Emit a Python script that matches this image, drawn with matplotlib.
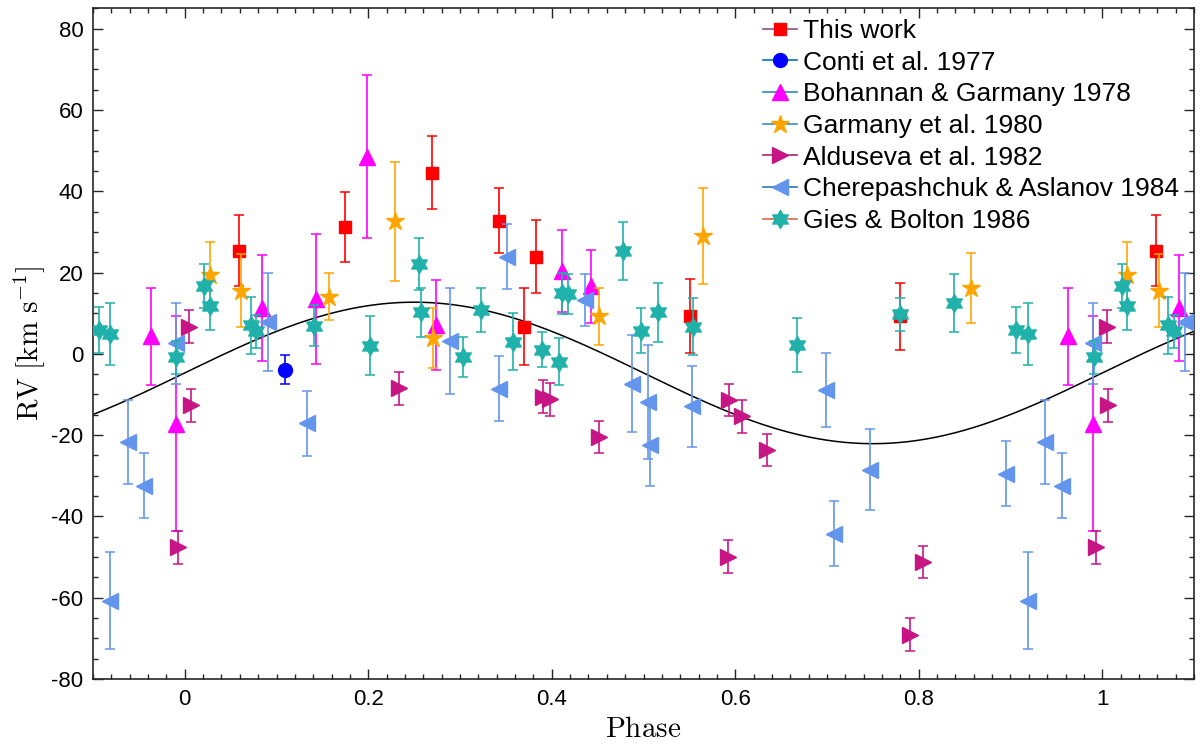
import numpy as np
import matplotlib
matplotlib.use("Agg")
import matplotlib.pyplot as plt
from matplotlib.lines import Line2D
from matplotlib.path import Path
from matplotlib.ticker import MultipleLocator

plt.rcParams['mathtext.fontset'] = 'cm'

# orbital solution drawn as the black curve
GAMMA = -4.7
K_AMP = 17.4

# phase (0..1), RV and error for each data set
this_phase = [0.0587, 0.1747, 0.270, 0.3424, 0.370, 0.3833, 0.5507, 0.780]
this_rv = [25.4, 31.2, 44.6, 32.7, 6.7, 23.9, 9.4, 9.2]
this_err = [8.7, 8.7, 9.0, 8.0, 9.4, 9.0, 9.1, 8.3]

conti_phase = [0.109]
conti_rv = [-3.9]
conti_err = [3.5]

boh_phase = [0.963, 0.990, 0.084, 0.143, 0.1986, 0.274, 0.411, 0.4428]
boh_rv = [4.3, -17.2, 11.2, 13.4, 48.5, 7.1, 20.4, 16.6]
boh_err = [12.0, 26.5, 13.0, 16.0, 20.0, 11.0, 10.0, 9.0]

garm_phase = [0.0275, 0.0616, 0.157, 0.229, 0.271, 0.452, 0.565, 0.857]
garm_rv = [19.4, 15.5, 14.1, 32.6, 3.9, 9.2, 28.9, 16.2]
garm_err = [8.0, 9.0, 5.7, 14.6, 7.4, 7.0, 11.8, 8.6]

ald_phase = [0.005, 0.0065, 0.993, 0.234, 0.390, 0.3986, 0.451, 0.5924,
             0.5935, 0.6069, 0.635, 0.791, 0.8043]
ald_rv = [6.7, -12.7, -47.6, -8.5, -10.5, -11.2, -20.5, -49.9,
          -11.3, -15.4, -23.6, -69.1, -51.2]
ald_err = [4.0] * 13

cher_phase = [0.919, 0.938, 0.956, 0.990, 0.0906, 0.133, 0.2888, 0.343,
              0.3514, 0.4359, 0.487, 0.5047, 0.5072, 0.5525, 0.6986,
              0.7073, 0.7464, 0.895]
cher_rv = [-60.7, -21.6, -32.4, 2.6, 7.8, -17.1, 3.1, -8.6,
           23.9, 13.3, -7.3, -11.8, -22.5, -12.9, -8.9,
           -44.3, -28.5, -29.5]
cher_err = [12.0, 10.3, 8.0, 10.0, 12.0, 8.0, 13.0, 8.0,
            8.0, 6.4, 12.0, 14.0, 10.0, 10.0, 9.0,
            8.0, 10.0, 8.0]

gies_phase = [0.906, 0.919, 0.991, 0.021, 0.0275, 0.0717, 0.078, 0.141,
              0.202, 0.2554, 0.258, 0.3036, 0.3225, 0.358, 0.389, 0.4076,
              0.411, 0.4177, 0.478, 0.4975, 0.516, 0.554, 0.6678, 0.780,
              0.8388]
gies_rv = [5.9, 4.9, -0.9, 16.6, 11.8, 7.0, 5.5, 6.9,
           2.0, 22.1, 10.2, -0.8, 10.8, 3.0, 1.0, -1.9,
           14.9, 14.7, 25.3, 5.7, 10.2, 6.7, 2.1, 9.7,
           12.5]
gies_err = [5.7, 7.7, 4.0, 5.4, 6.0, 7.0, 4.0, 5.0,
            7.3, 6.5, 6.0, 5.0, 5.4, 7.0, 4.3, 5.7,
            5.0, 5.0, 7.2, 5.6, 7.2, 7.0, 6.6, 4.0,
            7.2]

labels = ["This work", "Conti et al. 1977", "Bohannan & Garmany 1978",
          "Garmany et al. 1980", "Alduseva et al. 1982",
          "Cherepashchuk & Aslanov 1984", "Gies & Bolton 1986"]

XMIN, XMAX = -0.1, 1.1

# six-pointed star like MATLAB's hexagram
hexagram = Path.unit_regular_star(6, 0.577)

datasets = [
    # phase, rv, err, marker, size, colour, legend line colour
    (this_phase, this_rv, this_err, 's', 9, '#FF0000', '#8E4F86'),
    (conti_phase, conti_rv, conti_err, 'o', 10, '#0000FF', '#0072BD'),
    (boh_phase, boh_rv, boh_err, '^', 12, '#FF00FF', '#2C86C4'),
    (garm_phase, garm_rv, garm_err, '*', 13.5, '#FFA500', '#3C8CC4'),
    (ald_phase, ald_rv, ald_err, '>', 12, '#C71585', '#A8285A'),
    (cher_phase, cher_rv, cher_err, '<', 12, '#6495ED', '#2A7ABD'),
    (gies_phase, gies_rv, gies_err, hexagram, 13, '#20B2AA', '#D26A4A'),
]


def wrap(phase, rv, err):
    """Repeat points one cycle either side and keep what falls in view."""
    p = np.asarray(phase, float)
    v = np.asarray(rv, float)
    e = np.asarray(err, float)
    pp = np.concatenate([p - 1, p, p + 1])
    vv = np.tile(v, 3)
    ee = np.tile(e, 3)
    keep = (pp >= XMIN) & (pp <= XMAX)
    return pp[keep], vv[keep], ee[keep]


fig = plt.figure(figsize=(12, 7.52), dpi=100)
ax = fig.add_axes([0.0775, 0.097, 0.9175, 0.892])

# model curve
ph = np.linspace(XMIN, XMAX, 600)
ax.plot(ph, GAMMA + K_AMP * np.sin(2 * np.pi * ph), color='black', lw=1.1, zorder=1)

handles = []
for i, (p, v, e, m, ms, c, lc) in enumerate(datasets):
    pp, vv, ee = wrap(p, v, e)
    ax.errorbar(pp, vv, yerr=ee, fmt='none', ecolor=c, elinewidth=1.2,
                capsize=3.8, capthick=1.1, zorder=2 + i)
    ax.plot(pp, vv, ls='none', marker=m, ms=ms, mfc=c, mec=c, zorder=2 + i)
    handles.append(Line2D([], [], color=lc, lw=1.2, marker=m, ms=ms,
                          mfc=c, mec=c))

ax.set_xlim(XMIN, XMAX)
ax.set_ylim(-80, 85)
ax.xaxis.set_major_locator(MultipleLocator(0.2))
ax.xaxis.set_minor_locator(MultipleLocator(0.02))
ax.yaxis.set_major_locator(MultipleLocator(20))
ax.yaxis.set_minor_locator(MultipleLocator(5))
ax.set_xticks(np.arange(0, 1.01, 0.2))
ax.set_xticklabels(['0', '0.2', '0.4', '0.6', '0.8', '1'])
ax.set_yticks(np.arange(-80, 81, 20))
ax.set_yticklabels([str(t) for t in range(-80, 81, 20)])

tick_font = ['Liberation Sans Narrow', 'Liberation Sans', 'DejaVu Sans']
for lab in ax.get_xticklabels() + ax.get_yticklabels():
    lab.set_family(tick_font)
    lab.set_fontsize(16)

ax.tick_params(which='both', direction='in', top=True, right=True,
               width=1.0, color='#262626')
ax.tick_params(which='major', length=7, pad=7)
ax.tick_params(which='minor', length=3.5)
for s in ax.spines.values():
    s.set_linewidth(1.2)
    s.set_color('#262626')

ax.set_xlabel(r'$\mathrm{Phase}$', fontsize=21, labelpad=4)
ax.set_ylabel(r'$\mathrm{RV\ [km\ s^{-1}]}$', fontsize=21, labelpad=2)

leg = ax.legend(handles, labels, loc='upper left',
                bbox_to_anchor=(763 / 1200, 1 - 19 / 752),
                bbox_transform=fig.transFigure, frameon=False,
                prop={'family': ['Liberation Sans', 'DejaVu Sans'], 'size': 19},
                handlelength=1.3, handletextpad=0.2, labelspacing=0.29,
                borderpad=0, borderaxespad=0, numpoints=1)

fig.savefig('out.png', dpi=100)
